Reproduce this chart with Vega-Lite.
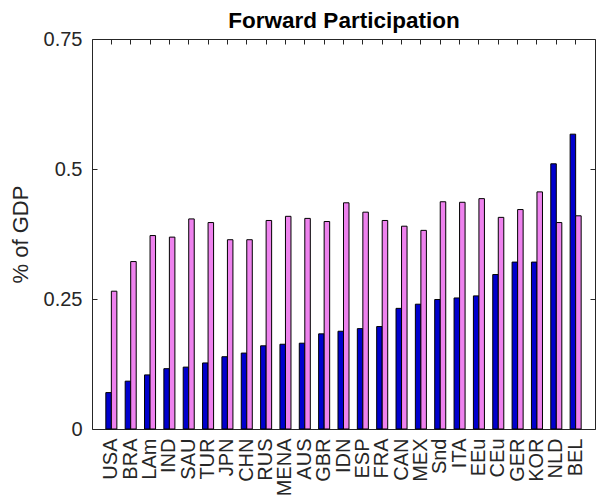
{
  "$schema": "https://vega.github.io/schema/vega-lite/v6.json",
  "width": 503,
  "height": 390,
  "autosize": "none",
  "padding": {"left": 92, "top": 39, "right": 2, "bottom": 71},
  "background": "white",
  "config": {
    "font": "Liberation Sans",
    "view": {"stroke": "#262626", "strokeWidth": 1}
  },
  "data": {
    "values": [
      {"country": "USA", "series": "Series 1", "value": 0.070},
      {"country": "USA", "series": "Series 2", "value": 0.265},
      {"country": "BRA", "series": "Series 1", "value": 0.092},
      {"country": "BRA", "series": "Series 2", "value": 0.322},
      {"country": "LAm", "series": "Series 1", "value": 0.104},
      {"country": "LAm", "series": "Series 2", "value": 0.372},
      {"country": "IND", "series": "Series 1", "value": 0.116},
      {"country": "IND", "series": "Series 2", "value": 0.369},
      {"country": "SAU", "series": "Series 1", "value": 0.119},
      {"country": "SAU", "series": "Series 2", "value": 0.404},
      {"country": "TUR", "series": "Series 1", "value": 0.127},
      {"country": "TUR", "series": "Series 2", "value": 0.397},
      {"country": "JPN", "series": "Series 1", "value": 0.139},
      {"country": "JPN", "series": "Series 2", "value": 0.364},
      {"country": "CHN", "series": "Series 1", "value": 0.146},
      {"country": "CHN", "series": "Series 2", "value": 0.364},
      {"country": "RUS", "series": "Series 1", "value": 0.160},
      {"country": "RUS", "series": "Series 2", "value": 0.401},
      {"country": "MENA", "series": "Series 1", "value": 0.163},
      {"country": "MENA", "series": "Series 2", "value": 0.409},
      {"country": "AUS", "series": "Series 1", "value": 0.165},
      {"country": "AUS", "series": "Series 2", "value": 0.405},
      {"country": "GBR", "series": "Series 1", "value": 0.183},
      {"country": "GBR", "series": "Series 2", "value": 0.399},
      {"country": "IDN", "series": "Series 1", "value": 0.188},
      {"country": "IDN", "series": "Series 2", "value": 0.435},
      {"country": "ESP", "series": "Series 1", "value": 0.193},
      {"country": "ESP", "series": "Series 2", "value": 0.417},
      {"country": "FRA", "series": "Series 1", "value": 0.197},
      {"country": "FRA", "series": "Series 2", "value": 0.401},
      {"country": "CAN", "series": "Series 1", "value": 0.232},
      {"country": "CAN", "series": "Series 2", "value": 0.390},
      {"country": "MEX", "series": "Series 1", "value": 0.240},
      {"country": "MEX", "series": "Series 2", "value": 0.382},
      {"country": "Snd", "series": "Series 1", "value": 0.249},
      {"country": "Snd", "series": "Series 2", "value": 0.437},
      {"country": "ITA", "series": "Series 1", "value": 0.252},
      {"country": "ITA", "series": "Series 2", "value": 0.436},
      {"country": "EEu", "series": "Series 1", "value": 0.256},
      {"country": "EEu", "series": "Series 2", "value": 0.443},
      {"country": "CEu", "series": "Series 1", "value": 0.297},
      {"country": "CEu", "series": "Series 2", "value": 0.407},
      {"country": "GER", "series": "Series 1", "value": 0.321},
      {"country": "GER", "series": "Series 2", "value": 0.422},
      {"country": "KOR", "series": "Series 1", "value": 0.321},
      {"country": "KOR", "series": "Series 2", "value": 0.456},
      {"country": "NLD", "series": "Series 1", "value": 0.510},
      {"country": "NLD", "series": "Series 2", "value": 0.397},
      {"country": "BEL", "series": "Series 1", "value": 0.567},
      {"country": "BEL", "series": "Series 2", "value": 0.410}
    ]
  },
  "layer": [
    {
      "mark": {"type": "bar", "stroke": "#000000", "strokeWidth": 1},
      "encoding": {
        "x": {
          "field": "country",
          "type": "nominal",
          "sort": null,
          "scale": {"paddingInner": 0.43, "paddingOuter": 0.715},
          "axis": {
            "orient": "bottom",
            "title": null,
            "labelAngle": -90,
            "labelFontSize": 20,
            "labelColor": "#262626",
            "tickColor": "#262626",
            "tickSize": -5,
            "bandPosition": 0.5,
            "labelPadding": 14,
            "domain": false,
            "grid": false,
            "labelBound": false,
            "labelOverlap": false
          }
        },
        "xOffset": {"field": "series", "type": "nominal"},
        "y": {
          "field": "value",
          "type": "quantitative",
          "scale": {"domain": [0, 0.75], "nice": false},
          "axis": {
            "orient": "left",
            "values": [0, 0.25, 0.5, 0.75],
            "labelExpr": "toString(datum.value)",
            "title": "% of GDP",
            "titleFontSize": 22,
            "titleFontWeight": "normal",
            "titleColor": "#262626",
            "titlePadding": 11,
            "labelFontSize": 20,
            "labelColor": "#262626",
            "tickColor": "#262626",
            "tickSize": -5,
            "labelPadding": 15,
            "domain": false,
            "grid": false
          }
        },
        "color": {
          "field": "series",
          "type": "nominal",
          "scale": {"domain": ["Series 1", "Series 2"], "range": ["#0000cd", "#ee82ee"]},
          "legend": null
        }
      }
    },
    {
      "mark": {"type": "bar", "opacity": 0},
      "encoding": {
        "x": {
          "field": "country",
          "type": "nominal",
          "sort": null,
          "axis": {
            "orient": "top",
            "title": "Forward Participation",
            "titleFontSize": 22.5,
            "titleFontWeight": "bold",
            "titleColor": "#000000",
            "titleBaseline": "alphabetic",
            "titlePadding": 11,
            "labels": false,
            "tickColor": "#262626",
            "tickSize": -5,
            "bandPosition": 0.5,
            "domain": false,
            "grid": false
          }
        },
        "y": {
          "field": "value",
          "type": "quantitative",
          "scale": {"domain": [0, 0.75], "nice": false},
          "axis": {
            "orient": "right",
            "values": [0, 0.25, 0.5, 0.75],
            "title": null,
            "labels": false,
            "tickColor": "#262626",
            "tickSize": -5,
            "domain": false,
            "grid": false
          }
        }
      }
    }
  ],
  "resolve": {"axis": {"x": "independent", "y": "independent"}}
}
